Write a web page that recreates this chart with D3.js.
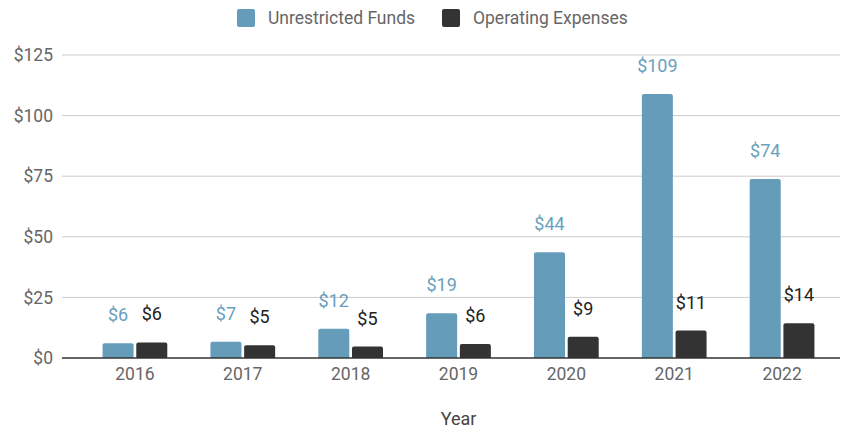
<!DOCTYPE html>
<meta charset="utf-8">
<style>
body { margin: 0; background: #fff; }
text { font-family: Roboto, "Noto Sans", sans-serif; }
.tick text { font-size: 17.5px; fill: #666; }
.lbl { font-size: 18px; text-anchor: middle; }
.legend text { font-size: 17.5px; fill: #666; }
</style>
<svg width="846" height="429" id="chart"></svg>
<script src="https://cdnjs.cloudflare.com/ajax/libs/d3/7.8.5/d3.min.js"></script>
<script>

var years = ["2016", "2017", "2018", "2019", "2020", "2021", "2022"];
var unrestricted = [6.1, 6.7, 12.1, 18.5, 43.6, 108.9, 73.8];
var operating = [6.4, 5.3, 4.7, 5.8, 8.8, 11.3, 14.3];
var yTicks = [0, 25, 50, 75, 100, 125];
var seriesNames = ["Unrestricted Funds", "Operating Expenses"];
var colors = ["#659cba", "#333333"];
var labelColors = ["#6a9fbd", "#222222"];

var svg = d3.select("#chart");

var gridLeft = 62, gridRight = 840;

var x = d3.scaleBand()
    .domain(years)
    .range([81, 836])
    .paddingInner(0.4)
    .paddingOuter(0.2);

var xs = d3.scaleBand()
    .domain([0, 1])
    .range([0, x.bandwidth()])
    .paddingInner(0.08);

var y = d3.scaleLinear()
    .domain([0, 125])
    .range([358, 55]);

// gridlines
svg.append("g")
  .selectAll("line")
  .data(yTicks.slice(1))
  .enter().append("line")
    .attr("x1", gridLeft)
    .attr("x2", gridRight)
    .attr("y1", function(d) { return y(d); })
    .attr("y2", function(d) { return y(d); })
    .attr("stroke", "#cccccc")
    .attr("stroke-width", 1);

// y axis labels
var yAxis = d3.axisLeft(y)
    .tickValues(yTicks)
    .tickSize(0)
    .tickPadding(9)
    .tickFormat(function(d) { return "$" + d; });

svg.append("g")
    .attr("transform", "translate(" + gridLeft + ",0)")
    .call(yAxis)
    .call(function(g) { g.select(".domain").remove(); });

// bars
var data = years.map(function(yr, i) {
  return { year: yr, vals: [unrestricted[i], operating[i]] };
});

var group = svg.append("g")
  .selectAll("g")
  .data(data)
  .enter().append("g")
    .attr("transform", function(d) { return "translate(" + x(d.year) + ",0)"; });

group.selectAll("path")
  .data(function(d) { return d.vals.map(function(v, k) { return { k: k, v: v }; }); })
  .enter().append("path")
    .attr("fill", function(d) { return colors[d.k]; })
    .attr("d", function(d) {
      var x0 = xs(d.k), w = xs.bandwidth(), top = y(d.v), bot = y(0), r = 2;
      return "M" + x0 + "," + bot +
        "V" + (top + r) +
        "Q" + x0 + "," + top + " " + (x0 + r) + "," + top +
        "H" + (x0 + w - r) +
        "Q" + (x0 + w) + "," + top + " " + (x0 + w) + "," + (top + r) +
        "V" + bot + "Z";
    });

group.selectAll("text")
  .data(function(d) { return d.vals.map(function(v, k) { return { k: k, v: v }; }); })
  .enter().append("text")
    .attr("class", "lbl")
    .attr("x", function(d) { return xs(d.k) + xs.bandwidth() / 2; })
    .attr("y", function(d) { return y(d.v) - 22; })
    .attr("fill", function(d) { return labelColors[d.k]; })
    .text(function(d) { return "$" + Math.round(d.v); });

// baseline
svg.append("line")
    .attr("x1", gridLeft)
    .attr("x2", gridRight)
    .attr("y1", y(0))
    .attr("y2", y(0))
    .attr("stroke", "#333")
    .attr("stroke-width", 1.5);

// x axis
var xAxis = d3.axisBottom(x).tickSize(0).tickPadding(10);
svg.append("g")
    .attr("transform", "translate(0," + y(0) + ")")
    .call(xAxis)
    .call(function(g) { g.select(".domain").remove(); });

svg.append("text")
    .attr("x", (x.range()[0] + x.range()[1]) / 2)
    .attr("y", 425)
    .attr("text-anchor", "middle")
    .attr("font-size", 18)
    .attr("fill", "#444")
    .text("Year");

// legend
var legend = svg.append("g").attr("class", "legend");
var legX = [237, 442];
seriesNames.forEach(function(name, i) {
  legend.append("rect")
      .attr("x", legX[i])
      .attr("y", 9)
      .attr("width", 18)
      .attr("height", 18)
      .attr("rx", 2)
      .attr("fill", colors[i]);
  legend.append("text")
      .attr("x", legX[i] + 31)
      .attr("y", 24)
      .text(name);
});

</script>
